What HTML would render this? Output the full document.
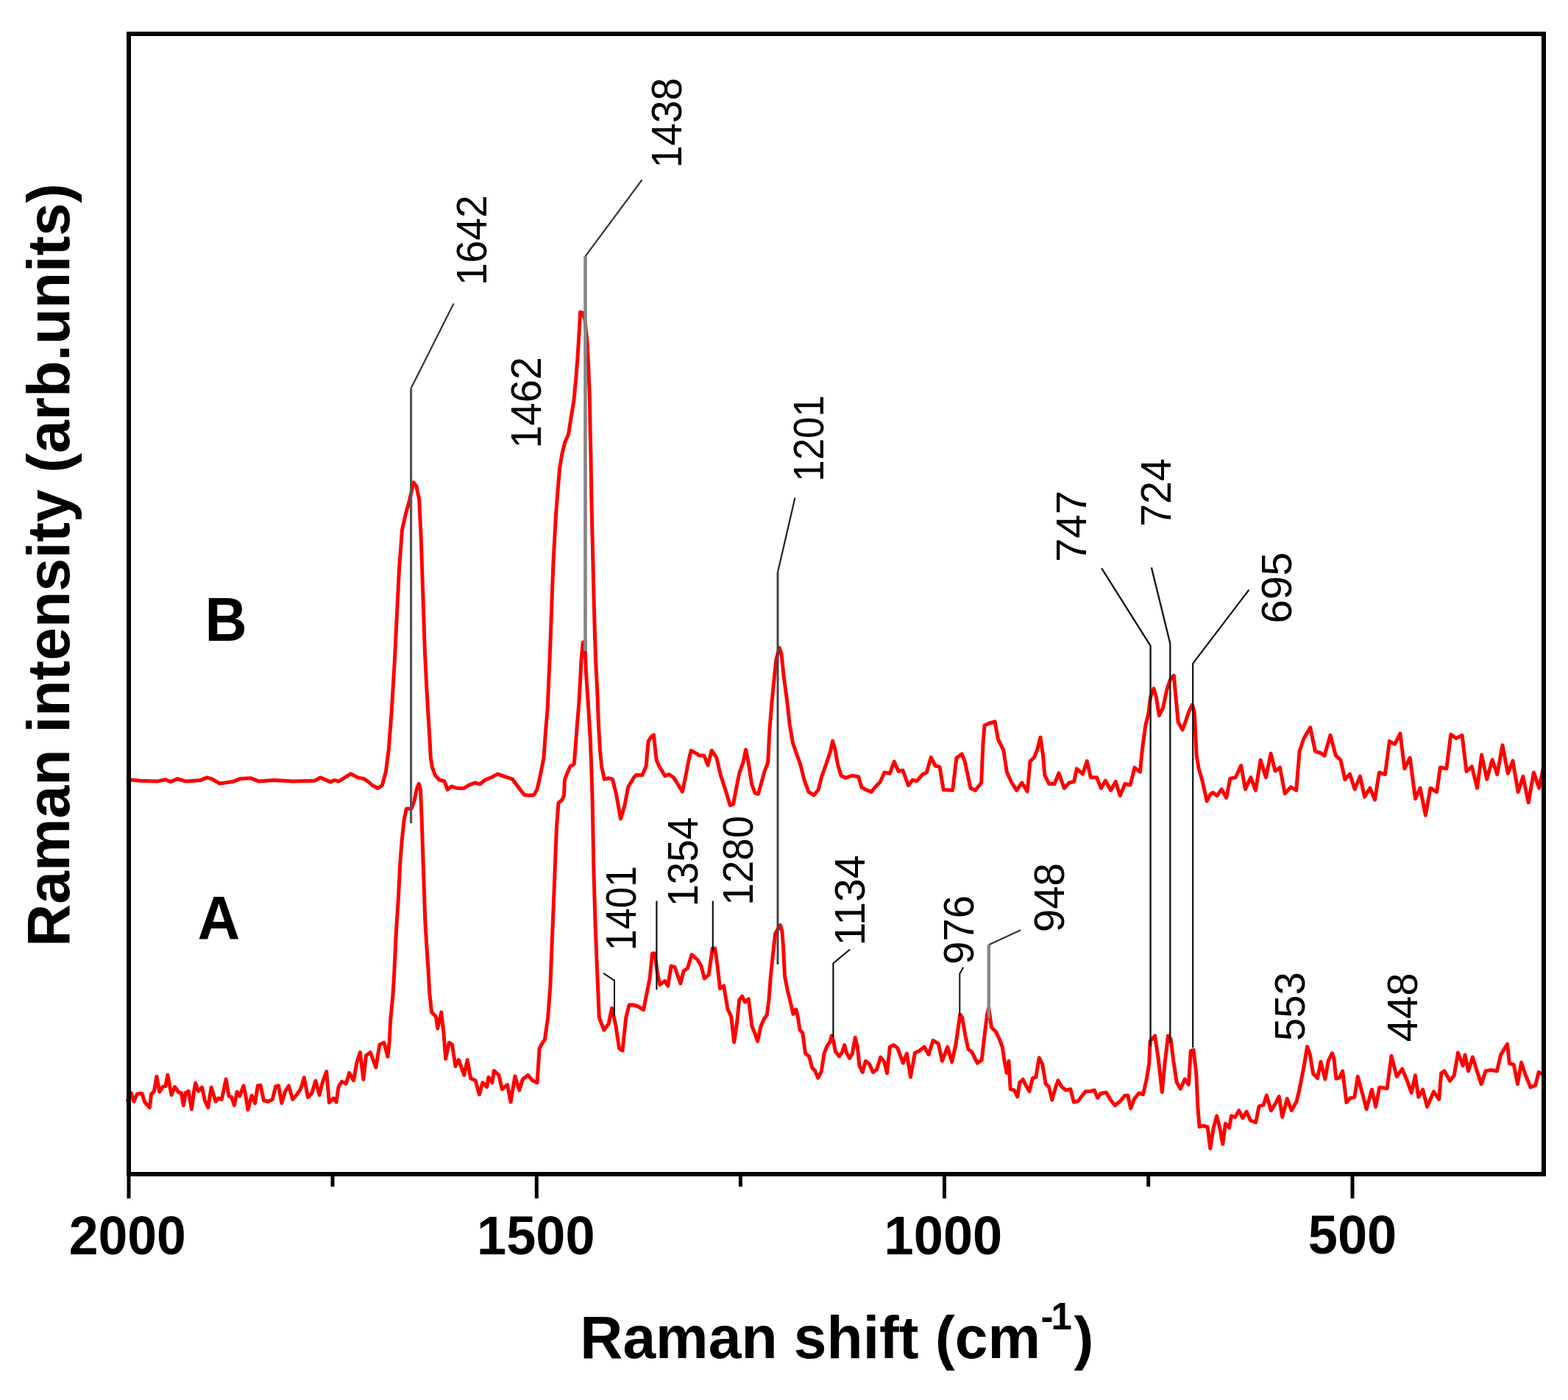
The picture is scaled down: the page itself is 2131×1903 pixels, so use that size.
<!DOCTYPE html>
<html><head><meta charset="utf-8"><title>Raman spectra</title>
<style>html,body{margin:0;padding:0;background:#fff;overflow:hidden;}svg{display:block;}</style>
</head><body>
<svg width="2131" height="1903" viewBox="0 0 2131 1903">
<rect x="0" y="0" width="2131" height="1903" fill="#fff"/>

<path d="M174.3,1059.8 L190.6,1061.2 L212.9,1062.1 L225.0,1059.8 L231.8,1062.6 L241.3,1058.6 L252.4,1062.1 L273.0,1060.4 L281.6,1056.9 L288.5,1059.2 L298.8,1065.0 L316.0,1062.6 L326.3,1058.6 L340.9,1057.8 L352.0,1062.1 L372.6,1060.4 L398.4,1062.1 L427.6,1061.2 L435.3,1056.9 L449.1,1062.9 L454.2,1060.4 L460.2,1062.1 L468.8,1056.9 L476.5,1051.8 L486.0,1056.9 L494.6,1058.6 L501.0,1063.0 L506.0,1067.5 L513.5,1071.5 L519.4,1067.5 L524.5,1048.5 L528.4,1017.5 L532.3,965.8 L536.2,901.2 L540.0,823.7 L542.6,772.1 L546.5,720.4 L551.7,697.2 L556.8,679.1 L562.0,655.8 L565.9,661.0 L569.7,679.1 L572.3,733.3 L574.9,810.8 L577.5,888.3 L580.1,940.0 L584.0,1004.6 L585.3,1030.0 L587.5,1043.3 L591.5,1053.9 L596.8,1060.0 L603.9,1061.8 L608.3,1073.3 L613.6,1068.9 L621.5,1071.5 L630.4,1071.5 L637.4,1067.1 L645.4,1064.0 L652.4,1065.8 L659.5,1060.0 L668.3,1056.5 L676.3,1052.1 L686.0,1055.6 L696.6,1059.2 L703.7,1068.9 L712.5,1080.4 L719.6,1081.2 L725.8,1080.4 L730.2,1072.4 L733.7,1056.5 L736.4,1043.3 L739.0,1030.0 L741.2,998.9 L744.2,962.1 L747.0,897.9 L749.5,831.9 L751.9,766.0 L755.5,700.0 L758.2,665.0 L760.6,636.3 L763.8,617.2 L767.8,601.2 L772.6,590.1 L775.8,569.4 L779.8,545.5 L782.9,513.6 L785.3,481.7 L787.7,441.9 L788.5,424.3 L791.7,425.1 L794.9,433.9 L798.1,465.8 L799.7,497.6 L801.3,537.5 L802.1,585.3 L802.9,617.2 L803.9,680.0 L806.3,782.4 L808.0,848.4 L809.6,897.9 L812.1,947.3 L813.4,984.2 L815.6,1021.0 L817.8,1043.0 L821.4,1059.2 L826.6,1057.8 L832.5,1059.2 L837.6,1079.9 L843.5,1113.0 L848.7,1096.0 L853.8,1069.5 L861.9,1056.3 L864.9,1053.4 L873.0,1053.4 L878.1,1041.6 L881.1,1007.7 L884.8,1001.8 L888.4,998.9 L892.1,1032.7 L895.8,1041.6 L903.9,1054.8 L909.0,1052.6 L915.7,1057.0 L927.4,1076.2 L931.9,1054.8 L935.5,1035.7 L939.2,1020.2 L945.8,1023.9 L950.3,1026.9 L956.9,1026.9 L962.0,1040.1 L967.2,1020.2 L973.8,1029.8 L979.7,1054.8 L985.6,1072.5 L992.2,1094.6 L996.6,1093.1 L1000.3,1073.5 L1004.7,1051.4 L1009.9,1036.7 L1013.6,1019.0 L1017.2,1036.7 L1021.7,1066.1 L1026.1,1077.9 L1030.5,1079.3 L1034.2,1066.1 L1038.6,1049.9 L1043.7,1036.7 L1045.9,992.5 L1048.9,955.7 L1051.8,926.2 L1054.8,896.8 L1059.2,880.6 L1062.1,889.4 L1065.1,918.9 L1069.5,951.3 L1073.2,985.1 L1077.6,1010.2 L1082.7,1024.9 L1087.9,1039.6 L1093.0,1060.2 L1098.9,1076.4 L1106.3,1080.8 L1112.2,1073.5 L1116.6,1055.8 L1122.5,1039.6 L1128.4,1021.9 L1131.6,1007.2 L1135.0,1019.0 L1138.7,1039.6 L1143.1,1054.3 L1149.0,1057.3 L1157.8,1054.3 L1166.7,1055.8 L1171.1,1070.5 L1177.0,1073.5 L1184.3,1076.4 L1190.2,1069.0 L1196.1,1063.1 L1202.0,1049.9 L1209.3,1051.4 L1215.2,1035.2 L1221.1,1048.4 L1227.0,1047.0 L1234.4,1067.6 L1240.3,1060.2 L1246.1,1061.7 L1253.5,1052.8 L1259.4,1049.9 L1265.3,1029.3 L1271.2,1041.1 L1277.1,1042.5 L1282.2,1073.5 L1294.7,1074.3 L1299.9,1030.2 L1307.2,1025.0 L1311.6,1036.0 L1319.0,1071.4 L1325.6,1074.3 L1333.7,1064.0 L1335.9,1012.5 L1338.1,986.0 L1344.8,983.0 L1352.1,980.8 L1356.5,1005.1 L1363.9,1019.8 L1368.3,1049.3 L1374.2,1062.5 L1381.6,1074.3 L1388.9,1064.0 L1396.3,1075.8 L1400.0,1034.6 L1405.1,1030.2 L1409.5,1019.8 L1414.0,1002.2 L1417.6,1027.2 L1419.8,1053.7 L1425.7,1065.5 L1433.1,1065.5 L1439.0,1050.8 L1446.3,1071.4 L1453.0,1064.0 L1459.6,1062.5 L1463.3,1044.9 L1471.4,1052.2 L1477.3,1034.6 L1482.4,1056.7 L1490.5,1056.7 L1496.4,1071.4 L1502.3,1061.1 L1509.6,1074.3 L1516.3,1062.5 L1522.2,1081.7 L1528.8,1065.5 L1536.1,1067.0 L1542.0,1043.4 L1549.4,1049.3 L1552.3,1019.8 L1556.8,986.0 L1561.2,968.3 L1563.5,947.7 L1568.0,935.9 L1571.5,948.0 L1575.3,972.7 L1580.6,962.4 L1585.8,937.4 L1590.9,922.7 L1595.3,918.3 L1598.3,950.7 L1601.2,981.6 L1607.1,991.9 L1611.5,980.1 L1615.9,966.9 L1620.4,958.0 L1623.3,968.3 L1624.8,997.8 L1626.2,1027.2 L1629.2,1044.9 L1633.6,1059.6 L1637.3,1075.8 L1640.2,1089.0 L1644.6,1080.2 L1648.3,1077.3 L1654.2,1081.7 L1660.1,1072.8 L1666.7,1084.6 L1671.9,1058.1 L1679.2,1056.7 L1686.6,1040.5 L1692.5,1072.8 L1699.8,1056.7 L1706.5,1074.3 L1713.1,1033.1 L1720.5,1056.7 L1727.1,1024.3 L1733.0,1047.8 L1739.6,1043.4 L1746.2,1078.7 L1754.3,1069.9 L1761.7,1074.3 L1766.1,1021.3 L1772.0,1003.7 L1780.8,988.9 L1787.4,1021.3 L1794.8,1023.5 L1800.0,1027.2 L1808.0,999.2 L1815.4,1027.2 L1822.0,1033.1 L1827.9,1059.6 L1834.5,1052.2 L1841.2,1072.8 L1848.5,1055.2 L1854.5,1083.1 L1861.9,1071.2 L1868.5,1087.1 L1874.4,1050.0 L1882.4,1052.6 L1888.4,1007.6 L1895.6,1011.5 L1902.9,997.0 L1908.9,1044.7 L1916.2,1030.1 L1923.5,1085.7 L1930.1,1071.2 L1937.4,1108.3 L1944.0,1071.2 L1952.6,1076.5 L1957.3,1043.3 L1965.9,1044.7 L1971.8,998.3 L1979.1,1003.6 L1987.1,999.6 L1993.0,1048.6 L2000.3,1042.0 L2007.6,1071.2 L2013.6,1026.1 L2020.8,1059.2 L2028.1,1032.7 L2034.8,1052.6 L2042.0,1012.9 L2049.3,1051.3 L2056.0,1034.1 L2063.2,1076.5 L2069.9,1055.3 L2077.2,1091.0 L2084.4,1050.0 L2091.7,1071.2 L2097.5,1043.3" fill="none" stroke="#ff0000" stroke-width="5" stroke-linejoin="round" stroke-linecap="round"/>
<path d="M173.7,1495.8 L178.2,1485.5 L181.9,1497.3 L186.3,1487.0 L193.0,1486.2 L196.7,1498.0 L203.4,1505.5 L205.6,1487.0 L209.3,1484.0 L213.0,1463.2 L216.7,1484.0 L221.2,1477.3 L224.9,1476.6 L227.9,1461.0 L233.0,1488.4 L237.5,1477.3 L242.7,1484.7 L246.4,1485.5 L249.4,1502.5 L252.3,1485.5 L256.1,1483.2 L260.5,1507.7 L263.5,1484.0 L265.7,1472.1 L269.4,1483.2 L274.6,1478.0 L278.3,1495.8 L282.8,1505.5 L287.2,1478.0 L293.1,1497.3 L296.9,1492.9 L301.3,1494.4 L303.5,1484.0 L307.2,1466.9 L311.0,1489.9 L314.7,1491.4 L318.4,1502.5 L322.1,1484.0 L325.8,1489.9 L331.0,1475.8 L334.0,1489.9 L336.9,1508.5 L342.1,1489.2 L346.6,1499.6 L350.3,1475.8 L354.0,1475.1 L358.4,1495.8 L364.4,1497.3 L370.3,1494.4 L374.7,1476.6 L378.5,1475.8 L382.9,1499.6 L387.4,1484.0 L392.5,1475.8 L397.7,1494.4 L403.7,1487.7 L408.9,1479.5 L413.3,1464.7 L418.5,1491.4 L423.7,1486.2 L428.9,1469.1 L434.1,1488.4 L438.5,1470.6 L443.7,1456.5 L447.4,1498.8 L453.4,1492.9 L457.1,1498.0 L460.1,1477.3 L464.4,1470.2 L470.3,1473.1 L474.7,1458.4 L480.6,1468.7 L485.0,1443.7 L489.4,1430.4 L493.9,1467.2 L497.5,1434.8 L503.4,1430.4 L510.8,1451.0 L515.9,1420.1 L521.8,1417.2 L527.0,1436.3 L529.2,1415.7 L530.7,1386.2 L533.6,1356.8 L535.4,1330.0 L538.5,1265.4 L541.5,1219.2 L543.8,1173.1 L546.2,1142.3 L549.2,1114.6 L552.3,1099.2 L556.2,1099.2 L559.2,1099.2 L563.1,1088.5 L566.2,1073.1 L569.2,1065.4 L571.5,1073.1 L573.1,1111.5 L574.6,1157.7 L576.2,1203.8 L577.7,1250.0 L580.0,1288.5 L582.2,1320.0 L583.7,1349.4 L586.6,1375.9 L592.5,1381.8 L594.7,1398.0 L599.8,1375.9 L602.8,1402.4 L605.7,1439.2 L610.2,1417.2 L614.6,1420.1 L619.0,1449.5 L623.4,1440.7 L630.8,1461.3 L635.2,1440.7 L639.6,1465.7 L646.2,1468.7 L651.4,1487.8 L655.8,1471.6 L661.7,1477.5 L663.9,1464.3 L669.0,1471.6 L671.3,1455.4 L677.9,1461.3 L682.3,1480.5 L689.6,1474.6 L694.1,1498.1 L699.9,1462.8 L705.8,1481.9 L710.3,1467.2 L717.6,1461.3 L723.5,1468.7 L730.1,1471.6 L733.1,1425.0 L737.0,1418.0 L740.4,1413.1 L744.7,1383.0 L747.9,1340.2 L750.0,1286.6 L752.2,1233.0 L754.3,1179.4 L756.4,1125.8 L759.0,1091.5 L764.0,1087.2 L766.5,1081.3 L767.5,1060.0 L771.0,1050.5 L775.1,1041.6 L780.2,1038.6 L781.7,1021.0 L783.9,991.5 L786.9,954.7 L788.6,925.0 L789.9,897.9 L792.3,873.1 L794.8,873.1 L796.5,914.3 L799.8,963.8 L802.0,1000.0 L803.5,1035.7 L805.2,1090.0 L806.8,1179.4 L809.0,1254.4 L811.1,1308.0 L814.3,1383.0 L820.8,1400.2 L827.2,1391.6 L831.5,1370.2 L836.9,1393.8 L841.5,1425.0 L846.0,1428.0 L850.8,1383.0 L855.1,1365.9 L859.3,1365.8 L866.1,1367.5 L874.6,1372.6 L878.0,1355.6 L883.1,1330.0 L886.5,1296.0 L889.9,1296.0 L893.3,1321.5 L896.8,1338.5 L903.6,1333.4 L907.8,1340.2 L912.1,1313.0 L917.2,1314.7 L920.6,1324.9 L924.9,1336.8 L929.1,1319.8 L934.2,1316.4 L940.2,1297.6 L947.9,1304.5 L953.0,1313.0 L957.2,1330.0 L963.2,1324.9 L968.3,1289.1 L971.7,1289.1 L975.1,1313.0 L978.5,1343.7 L983.7,1340.2 L988.8,1370.9 L993.8,1382.3 L997.7,1416.7 L1001.5,1391.2 L1004.7,1359.3 L1008.5,1354.2 L1012.3,1361.9 L1017.4,1358.0 L1021.9,1395.0 L1025.7,1404.0 L1029.6,1415.4 L1034.0,1395.0 L1038.5,1384.8 L1042.3,1379.7 L1044.9,1359.3 L1047.4,1327.4 L1050.0,1301.9 L1051.5,1288.9 L1053.5,1269.3 L1060.4,1257.5 L1062.8,1265.3 L1064.4,1285.0 L1066.6,1327.4 L1070.4,1346.6 L1074.2,1361.9 L1078.0,1378.4 L1081.9,1372.1 L1084.4,1382.3 L1087.0,1400.1 L1090.8,1404.0 L1094.6,1432.0 L1099.7,1435.9 L1103.6,1451.2 L1107.4,1455.0 L1111.8,1465.2 L1116.3,1456.3 L1120.1,1432.0 L1124.0,1421.8 L1127.8,1416.7 L1130.3,1407.8 L1132.9,1415.4 L1135.4,1429.5 L1140.5,1435.9 L1144.4,1430.8 L1147.6,1420.5 L1150.8,1432.0 L1154.6,1438.4 L1158.4,1432.0 L1162.2,1410.3 L1165.4,1423.1 L1168.0,1448.6 L1172.4,1457.5 L1176.3,1442.2 L1181.4,1446.1 L1186.5,1457.5 L1191.6,1453.7 L1196.7,1437.1 L1201.8,1443.5 L1205.6,1458.8 L1209.4,1423.1 L1214.5,1420.5 L1219.7,1424.4 L1223.5,1434.6 L1227.3,1444.8 L1232.4,1432.0 L1237.5,1464.0 L1243.5,1431.0 L1248.8,1428.9 L1256.2,1423.0 L1262.1,1433.4 L1268.0,1414.2 L1275.3,1418.6 L1280.5,1442.2 L1287.8,1423.0 L1293.7,1443.7 L1298.9,1420.1 L1304.8,1378.9 L1307.7,1383.3 L1312.1,1408.3 L1315.8,1426.0 L1321.0,1430.4 L1328.3,1445.1 L1334.2,1440.7 L1337.9,1408.3 L1341.6,1378.9 L1343.8,1370.1 L1347.5,1396.5 L1353.4,1402.4 L1357.8,1411.3 L1362.2,1423.0 L1365.1,1442.2 L1368.1,1458.4 L1371.0,1442.2 L1373.2,1480.5 L1378.4,1481.9 L1382.8,1490.8 L1385.7,1471.6 L1390.2,1467.2 L1394.6,1476.0 L1399.0,1483.4 L1403.4,1465.7 L1407.8,1464.3 L1412.2,1437.8 L1416.7,1446.6 L1421.1,1473.1 L1425.5,1477.5 L1429.9,1495.2 L1434.3,1479.0 L1438.0,1468.7 L1443.1,1477.5 L1449.0,1481.9 L1454.9,1480.5 L1459.3,1498.1 L1465.2,1496.7 L1469.6,1490.8 L1475.5,1483.4 L1481.4,1483.4 L1487.3,1481.9 L1491.7,1492.2 L1496.1,1486.3 L1503.5,1484.9 L1509.4,1495.2 L1515.3,1502.5 L1522.6,1496.7 L1528.5,1489.3 L1532.9,1488.9 L1536.6,1506.6 L1541.8,1493.4 L1547.7,1486.0 L1553.6,1487.5 L1558.0,1468.3 L1561.7,1446.2 L1563.1,1415.3 L1569.7,1408.0 L1574.2,1438.9 L1579.3,1484.5 L1583.0,1446.2 L1587.4,1408.0 L1591.1,1412.4 L1594.8,1441.8 L1599.2,1471.3 L1604.3,1480.1 L1610.2,1466.9 L1615.4,1474.2 L1618.3,1428.6 L1622.0,1427.1 L1625.7,1458.0 L1627.9,1505.1 L1630.1,1531.6 L1635.3,1530.2 L1641.1,1531.6 L1644.8,1561.1 L1649.2,1533.1 L1653.7,1516.9 L1658.1,1534.6 L1661.8,1555.2 L1665.4,1527.2 L1670.6,1533.1 L1673.5,1516.9 L1678.7,1518.4 L1683.8,1509.5 L1688.9,1519.8 L1694.1,1511.0 L1699.3,1522.8 L1706.7,1525.7 L1711.1,1503.7 L1717.0,1502.2 L1721.4,1488.9 L1727.3,1509.5 L1733.1,1500.7 L1738.3,1490.4 L1742.7,1518.4 L1749.3,1493.4 L1755.2,1509.5 L1761.9,1497.8 L1765.5,1483.0 L1771.4,1453.6 L1776.6,1422.7 L1780.3,1433.0 L1784.7,1459.5 L1790.6,1465.4 L1795.0,1443.3 L1800.9,1466.9 L1805.3,1441.8 L1810.4,1431.5 L1812.9,1438.3 L1815.9,1466.2 L1820.3,1464.8 L1824.7,1455.9 L1829.9,1498.6 L1835.0,1492.7 L1840.9,1491.3 L1845.3,1463.3 L1850.5,1482.4 L1857.1,1507.5 L1864.5,1481.0 L1869.6,1504.5 L1874.8,1478.0 L1885.1,1479.5 L1891.0,1435.3 L1898.3,1463.3 L1905.7,1453.0 L1913.0,1470.7 L1918.2,1485.4 L1923.4,1461.8 L1927.8,1491.3 L1933.7,1481.0 L1939.5,1504.5 L1948.4,1483.9 L1955.7,1494.2 L1958.7,1458.9 L1963.1,1455.9 L1970.5,1469.2 L1976.3,1461.8 L1981.5,1430.9 L1988.1,1448.6 L1991.1,1433.9 L1995.5,1455.9 L2001.4,1436.8 L2007.3,1455.9 L2013.2,1473.6 L2019.0,1455.9 L2026.4,1454.5 L2034.5,1455.9 L2039.6,1433.9 L2048.5,1419.1 L2051.4,1445.6 L2057.3,1447.1 L2062.5,1473.6 L2067.6,1444.2 L2073.5,1461.8 L2080.1,1478.0 L2086.8,1475.1 L2091.2,1457.4 L2097.5,1460.3" fill="none" stroke="#ff0000" stroke-width="5" stroke-linejoin="round" stroke-linecap="round"/>
<path d="M616.6,412.6 L558.6,527.8" fill="none" stroke="#333" stroke-width="2.2" stroke-linejoin="miter" stroke-linecap="butt"/>
<path d="M558.6,527.8 L558.6,1119.0" fill="none" stroke="#555" stroke-width="3.2" stroke-linejoin="miter" stroke-linecap="butt"/>
<path d="M872.5,244.5 L795.5,348.3" fill="none" stroke="#333" stroke-width="2.2" stroke-linejoin="miter" stroke-linecap="butt"/>
<path d="M795.5,348.3 L795.5,885.0" fill="none" stroke="#858585" stroke-width="4.6" stroke-linejoin="miter" stroke-linecap="butt"/>
<path d="M1080.5,676.6 L1057.0,777.8" fill="none" stroke="#222" stroke-width="2.2" stroke-linejoin="miter" stroke-linecap="butt"/>
<path d="M1057.0,777.8 L1057.0,1311.0" fill="none" stroke="#444" stroke-width="3.0" stroke-linejoin="miter" stroke-linecap="butt"/>
<path d="M1497.1,772.4 L1563.6,877.8 L1563.6,1422.0" fill="none" stroke="#1a1a1a" stroke-width="2.4" stroke-linejoin="miter" stroke-linecap="butt"/>
<path d="M1564.9,771.4 L1590.3,874.7 L1590.3,1417.0" fill="none" stroke="#1a1a1a" stroke-width="2.4" stroke-linejoin="miter" stroke-linecap="butt"/>
<path d="M1697.5,801.6 L1621.2,901.8 L1621.2,1424.0" fill="none" stroke="#111" stroke-width="2.2" stroke-linejoin="miter" stroke-linecap="butt"/>
<path d="M820.2,1322.8 L835.0,1332.9 L835.0,1381.3" fill="none" stroke="#111" stroke-width="2.0" stroke-linejoin="miter" stroke-linecap="butt"/>
<path d="M892.4,1224.6 L892.4,1345.3" fill="none" stroke="#111" stroke-width="2.2" stroke-linejoin="miter" stroke-linecap="butt"/>
<path d="M968.8,1224.6 L968.8,1294.0" fill="none" stroke="#111" stroke-width="2.2" stroke-linejoin="miter" stroke-linecap="butt"/>
<path d="M1155.1,1290.5 L1132.4,1309.4 L1132.4,1410.0" fill="none" stroke="#111" stroke-width="2.2" stroke-linejoin="miter" stroke-linecap="butt"/>
<path d="M1309.3,1314.7 L1304.3,1323.6 L1304.3,1380.7" fill="none" stroke="#111" stroke-width="2.0" stroke-linejoin="miter" stroke-linecap="butt"/>
<path d="M1387.2,1264.2 L1343.8,1284.3" fill="none" stroke="#333" stroke-width="2.2" stroke-linejoin="miter" stroke-linecap="butt"/>
<path d="M1343.8,1284.3 L1343.8,1384.0" fill="none" stroke="#858585" stroke-width="4.4" stroke-linejoin="miter" stroke-linecap="butt"/>
<rect x="175" y="46" width="1923" height="1550" fill="none" stroke="#000" stroke-width="6"/>
<line x1="175" y1="1596" x2="175" y2="1629" stroke="#000" stroke-width="5"/>
<line x1="729.3" y1="1596" x2="729.3" y2="1629" stroke="#000" stroke-width="5"/>
<line x1="1283.5" y1="1596" x2="1283.5" y2="1629" stroke="#000" stroke-width="5"/>
<line x1="1838" y1="1596" x2="1838" y2="1629" stroke="#000" stroke-width="5"/>
<line x1="452" y1="1596" x2="452" y2="1613" stroke="#000" stroke-width="5"/>
<line x1="1006.4" y1="1596" x2="1006.4" y2="1613" stroke="#000" stroke-width="5"/>
<line x1="1560.7" y1="1596" x2="1560.7" y2="1613" stroke="#000" stroke-width="5"/>
<text transform="translate(93.8,1704.8) scale(0.960,1)" font-family="Liberation Sans, Arial, sans-serif" font-weight="bold" font-size="74.5">2000</text>
<text transform="translate(648.1,1704.8) scale(0.968,1)" font-family="Liberation Sans, Arial, sans-serif" font-weight="bold" font-size="74.5">1500</text>
<text transform="translate(1201.6,1704.8) scale(0.969,1)" font-family="Liberation Sans, Arial, sans-serif" font-weight="bold" font-size="74.5">1000</text>
<text transform="translate(1777.7,1704.3) scale(0.970,1)" font-family="Liberation Sans, Arial, sans-serif" font-weight="bold" font-size="74.5">500</text>
<text transform="translate(661.1,388.1) rotate(-90) scale(0.952,1)" font-family="Liberation Sans, Arial, sans-serif" font-size="58">1642</text>
<text transform="translate(926.3,228.6) rotate(-90) scale(0.952,1)" font-family="Liberation Sans, Arial, sans-serif" font-size="58">1438</text>
<text transform="translate(735.3,609.5) rotate(-90) scale(0.965,1)" font-family="Liberation Sans, Arial, sans-serif" font-size="58">1462</text>
<text transform="translate(1119.0,654.7) rotate(-90) scale(0.911,1)" font-family="Liberation Sans, Arial, sans-serif" font-size="58">1201</text>
<text transform="translate(1476.2,764.0) rotate(-90) scale(1.003,1)" font-family="Liberation Sans, Arial, sans-serif" font-size="58">747</text>
<text transform="translate(1590.5,715.8) rotate(-90) scale(0.958,1)" font-family="Liberation Sans, Arial, sans-serif" font-size="58">724</text>
<text transform="translate(1755.0,847.5) rotate(-90) scale(1.002,1)" font-family="Liberation Sans, Arial, sans-serif" font-size="58">695</text>
<text transform="translate(863.8,1292.2) rotate(-90) scale(0.895,1)" font-family="Liberation Sans, Arial, sans-serif" font-size="58">1401</text>
<text transform="translate(947.8,1232.6) rotate(-90) scale(0.945,1)" font-family="Liberation Sans, Arial, sans-serif" font-size="58">1354</text>
<text transform="translate(1023.0,1230.7) rotate(-90) scale(0.946,1)" font-family="Liberation Sans, Arial, sans-serif" font-size="58">1280</text>
<text transform="translate(1175.0,1285.4) rotate(-90) scale(0.987,1)" font-family="Liberation Sans, Arial, sans-serif" font-size="58">1134</text>
<text transform="translate(1323.4,1311.0) rotate(-90) scale(0.972,1)" font-family="Liberation Sans, Arial, sans-serif" font-size="58">976</text>
<text transform="translate(1445.8,1267.2) rotate(-90) scale(0.972,1)" font-family="Liberation Sans, Arial, sans-serif" font-size="58">948</text>
<text transform="translate(1772.8,1414.9) rotate(-90) scale(0.968,1)" font-family="Liberation Sans, Arial, sans-serif" font-size="58">553</text>
<text transform="translate(1925.5,1416.3) rotate(-90) scale(0.970,1)" font-family="Liberation Sans, Arial, sans-serif" font-size="58">448</text>
<text transform="translate(278.6,871.4) scale(0.943,1)" font-family="Liberation Sans, Arial, sans-serif" font-weight="bold" font-size="84">B</text>
<text transform="translate(268.5,1277.1) scale(0.952,1)" font-family="Liberation Sans, Arial, sans-serif" font-weight="bold" font-size="84">A</text>
<text transform="translate(788.3,1846) scale(0.981,1)" font-family="Liberation Sans, Arial, sans-serif" font-weight="bold" font-size="82">Raman shift (cm</text>
<text x="1414.5" y="1806.5" font-family="Liberation Sans, Arial, sans-serif" font-weight="bold" font-size="51">-</text>
<text x="1428.5" y="1806.9" font-family="Liberation Sans, Arial, sans-serif" font-weight="bold" font-size="51">1</text>
<text x="1459.5" y="1846" font-family="Liberation Sans, Arial, sans-serif" font-weight="bold" font-size="80.6">)</text>
<text transform="translate(94,1287.0) rotate(-90) scale(0.982,1)" font-family="Liberation Sans, Arial, sans-serif" font-weight="bold" font-size="82">Raman intensity (arb.units)</text>
</svg>
</body></html>
